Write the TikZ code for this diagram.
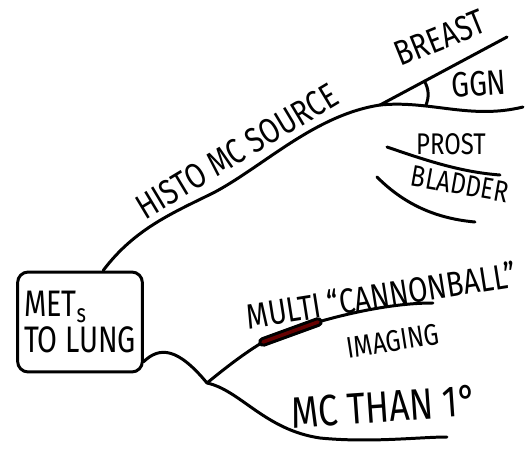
\documentclass[tikz,border=0pt]{standalone}
\usepackage{fontspec}
\setmainfont{Fira Sans}
\usetikzlibrary{positioning,calc}
\tikzset{
  stroke/.style={line width=1.7pt,line cap=round,line join=round},
  topic/.style={rectangle,draw,line width=1.7pt,rounded corners=6pt,xscale=0.78,
    minimum width=3.2cm,minimum height=2cm,align=left,inner sep=2pt,
    font=\fontsize{21}{20}\selectfont},
  lbl/.style={inner sep=0pt,font=\fontsize{20}{22}\selectfont,xscale=0.8},
  sublbl/.style={lbl,font=\fontsize{17}{19}\selectfont},
  band/.style={line width=5.5pt,line cap=round},
  bandfill/.style={line width=2pt,draw=red!40!black,line cap=round},
}
\begin{document}
\begin{tikzpicture}[x=0.02cm,y=-0.02cm]
  \useasboundingbox (0,0) rectangle (532,450);
  \node[topic] (lung) at (80,322) {MET\textsubscript{s}\\TO LUNG};
  \coordinate (hub1) at (380,105);
  \coordinate (hub2) at (207,383);
  \coordinate (breast) at (507,37);
  \coordinate (ggn) at (523,107);
  \coordinate (prost1) at (387,147);
  \coordinate (prost2) at (500,175);
  \coordinate (blad1) at (377,177);
  \coordinate (blad2) at (475,222);
  \coordinate (imgend) at (433,303);
  \coordinate (mcend) at (447,437);
  \coordinate (m1) at (263,342);
  \coordinate (m2) at (318,322);

  \draw[stroke] (lung.60) .. controls (135,228) and (175,212) .. (215,192)
    .. controls (265,165) and (315,115) .. (hub1);
  \draw[stroke] (hub1) -- (breast);
  \draw[stroke] (hub1) .. controls (430,100) and (470,120) .. (ggn);
  \draw[stroke] ($(hub1)!0.35!(breast)$) to[bend left=25] ($(hub1)!0.32!(ggn)$);
  \draw[stroke] (prost1) .. controls (425,160) and (460,172) .. (prost2);
  \draw[stroke] (blad1) .. controls (400,200) and (430,218) .. (blad2);

  \draw[stroke] (lung.-26) .. controls (160,346) and (178,348) .. (hub2);
  \draw[stroke] (hub2) .. controls (235,360) and (250,350) .. (m1) -- (m2)
    .. controls (360,310) and (400,303) .. (imgend);
  \draw[stroke] (hub2) .. controls (240,390) and (265,430) .. (320,438)
    .. controls (370,443) and (420,437) .. (mcend);
  \draw[band] (m1) -- (m2);
  \draw[bandfill] (m1) -- (m2);

  \node[rotate=31,lbl] (histo) at (237,151) {HISTO MC SOURCE};
  \node[rotate=22,lbl] (breastlbl) at (440,38) {BREAST};
  \node[rotate=4,lbl] (ggnlbl) at (479,84) {GGN};
  \node[rotate=0,sublbl] (prostlbl) at (451,144) {PROST};
  \node[rotate=-10,sublbl] (bladlbl) at (460,184) {BLADDER};
  \node[rotate=9,lbl] (multi) at (381,295) {MULTI ``CANNONBALL''};
  \node[rotate=9,sublbl] (imaging) at (393,341) {IMAGING};
  \node[rotate=4,lbl,font=\fontsize{25}{27}\selectfont] (mc) at (384,407) {MC THAN 1°};
\end{tikzpicture}
\end{document}
